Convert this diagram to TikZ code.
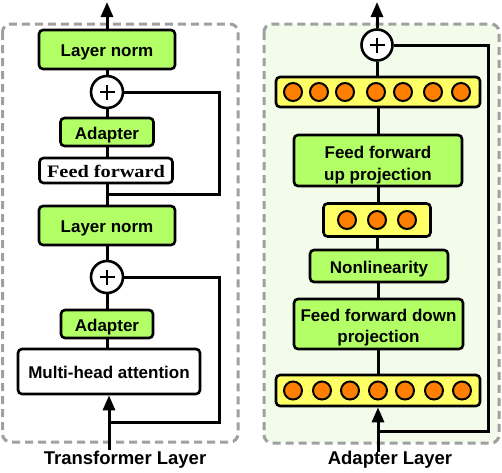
\documentclass[tikz,border=0pt]{standalone}
\usepackage{fontspec}
\setsansfont{Liberation Sans}
\newfontfamily\ffserif{Liberation Serif}[FakeStretch=1.16]
\usetikzlibrary{arrows.meta,calc}
\definecolor{boxgreen}{RGB}{178,255,102}
\definecolor{vecyellow}{RGB}{255,255,102}
\definecolor{dotorange}{RGB}{255,128,0}
\definecolor{panelgray}{RGB}{160,160,160}
\definecolor{panelfill}{RGB}{243,251,235}
\begin{document}
\begin{tikzpicture}[x=1pt,y=-1pt,
  box/.style={draw,line width=2.6pt,rounded corners=4pt,font=\sffamily\bfseries\fontsize{17}{21.5}\selectfont,inner sep=0pt,align=center},
  one/.style={text height=14pt,text depth=0pt},
  gbox/.style={box,fill=boxgreen},
  wbox/.style={box,fill=white},
  vec/.style={draw,line width=2.6pt,rounded corners=4pt,fill=vecyellow,inner sep=0pt},
  dot/.style={circle,draw,line width=2pt,fill=dotorange,minimum size=18pt,inner sep=0pt},
  plus/.style={circle,draw,line width=2.6pt,fill=white,minimum size=32pt,inner sep=0pt,
    path picture={\draw[line width=2.6pt]
      ([xshift=-7.5pt]path picture bounding box.center) -- ([xshift=7.5pt]path picture bounding box.center)
      ([yshift=-7.5pt]path picture bounding box.center) -- ([yshift=7.5pt]path picture bounding box.center);}},
  conn/.style={line width=3pt},
  arr/.style={line width=3pt,-{Triangle[length=15pt,width=12pt]}},
  panel/.style={draw=panelgray,line width=3pt,dash pattern=on 8pt off 5pt,rounded corners=8pt},
  lab/.style={font=\sffamily\bfseries\fontsize{18.5}{22}\selectfont,inner sep=0pt}
]
\path[use as bounding box,fill=white] (0,0) rectangle (502,472);
% panels
\draw[panel] (2.5,24) rectangle (238,442);
\draw[panel,fill=panelfill] (264,24) rectangle (499,443);

% ---- left: transformer layer ----
\node[gbox,one,minimum width=136pt,minimum height=39pt] (ln1) at (107,49.5) {Layer norm};
\node[plus] (p1) at (107,92) {};
\node[gbox,one,minimum width=93pt,minimum height=28pt] (ad1) at (107,132) {Adapter};
\node[wbox,one,font=\ffserif\bfseries\fontsize{17.5}{20}\selectfont,minimum width=133pt,minimum height=25pt] (ff) at (106,170.5) {Feed forward};
\node[gbox,one,minimum width=136pt,minimum height=39pt] (ln2) at (107,225.5) {Layer norm};
\node[plus] (p2) at (107,277) {};
\node[gbox,one,minimum width=92pt,minimum height=28pt] (ad2) at (107,324) {Adapter};
\node[wbox,one,minimum width=182pt,minimum height=45pt] (mha) at (109,371.5) {Multi-head attention};

\draw[conn] (ad2.south) -- (ad2.south |- mha.north);
\draw[conn] (ad2.north) -- (p2.south);
\draw[conn] (p2.north) -- (ln2.south);
\draw[conn] (ln2.north) -- (ln2.north |- ff.south);
\draw[conn] (ad1.south |- ff.north) -- (ad1.south);
\draw[conn] (ad1.north) -- (p1.south);
\draw[conn] (p1.north) -- (ln1.south);

\coordinate (out1) at (107,2);
\draw[arr] (ln1.north) -- (out1);
\coordinate (s1) at (107,194);
\coordinate (s1c) at (219,194);
\draw[conn] (s1) -- (s1c) |- (p1.east);
\coordinate (s2) at (109,422);
\coordinate (s2c) at (219,422);
\draw[conn] (s2) -- (s2c) |- (p2.east);
\coordinate (in1) at (109,450);
\draw[arr] (in1) -- (mha.south);

% ---- right: adapter layer ----
\node[plus,minimum size=31pt] (p3) at (377,45) {};
\node[vec,minimum width=204pt,minimum height=30pt] (v1) at (378,92) {};
\foreach \x [count=\i] in {293,319,345,376,403,433,461}
  \node[dot] (d1\i) at (\x,92) {};
\node[gbox,text height=42.6pt,text depth=3.6pt,minimum width=168pt,minimum height=51pt] (up) at (378,160.5) {Feed forward\\up projection};
\node[vec,minimum width=107pt,minimum height=33pt] (v2) at (377,220) {};
\foreach \x [count=\i] in {347,377,407}
  \node[dot] (d2\i) at (\x,220) {};
\node[gbox,one,minimum width=138pt,minimum height=32pt] (nl) at (379,266) {Nonlinearity};
\node[gbox,text height=41pt,text depth=3.6pt,minimum width=169pt,minimum height=50pt] (down) at (378.5,324) {Feed forward down\\projection};
\node[vec,minimum width=204pt,minimum height=31pt] (v3) at (378,390.5) {};
\foreach \x [count=\i] in {293,322,350,378,405,434,462}
  \node[dot] (d3\i) at (\x,390.5) {};

\draw[conn] (p3.south) -- (p3.south |- v1.north);
\draw[conn] (v1.south) -- (up.north);
\draw[conn] (up.south) -- (up.south |- v2.north);
\draw[conn] (v2.south) -- (v2.south |- nl.north);
\draw[conn] (down.north |- nl.south) -- (down.north);
\draw[conn] (down.south) -- (down.south |- v3.north);

\coordinate (out2) at (377,2);
\draw[arr] (p3.north) -- (out2);
\coordinate (s3) at (378,431);
\coordinate (s3c) at (488,431);
\draw[conn] (s3) -- (s3c) |- (p3.east);
\coordinate (in2) at (378,452);
\draw[arr] (in2) -- (v3.south);

% labels
\node[lab] (tl) at (125,460) {Transformer Layer};
\node[lab] (al) at (390,460) {Adapter Layer};
\end{tikzpicture}
\end{document}
